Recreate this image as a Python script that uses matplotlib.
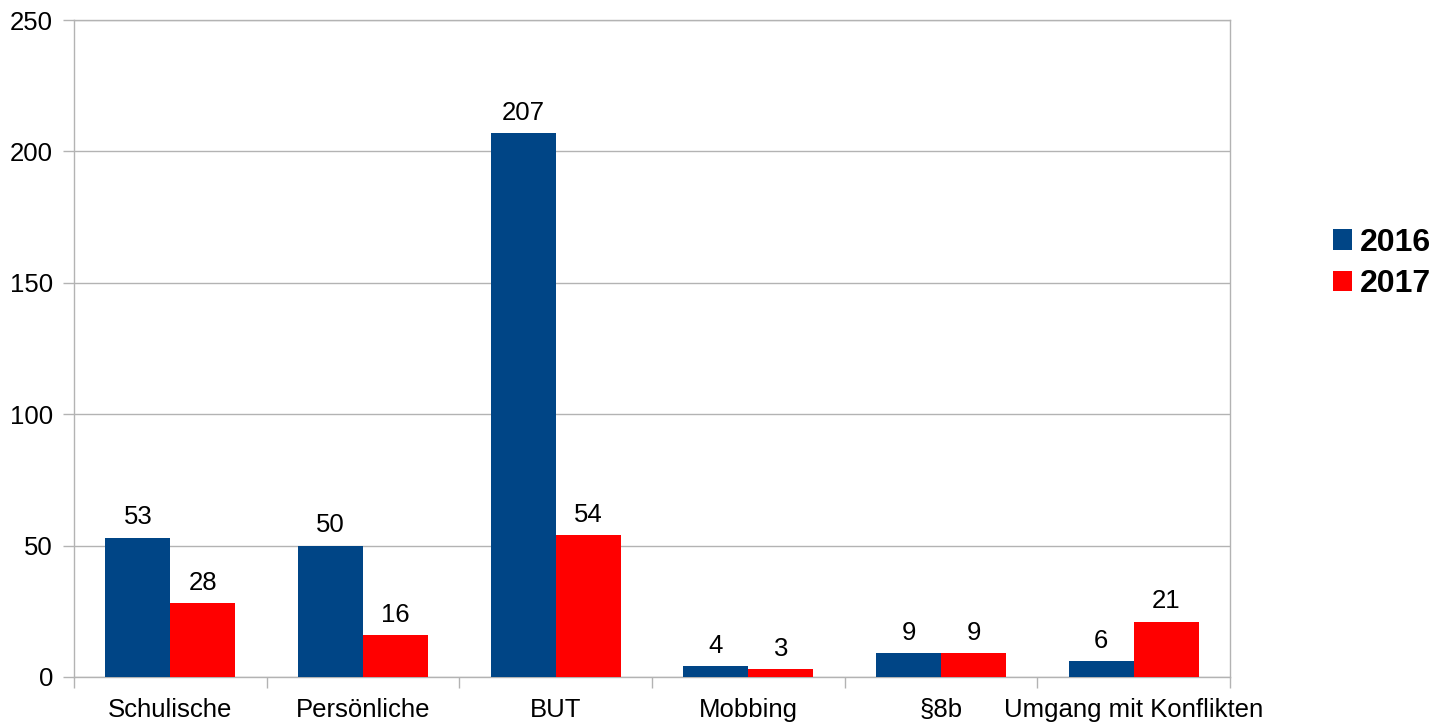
import matplotlib.pyplot as plt
import numpy as np

categories = ['Schulische', 'Persönliche', 'BUT', 'Mobbing', '§8b', 'Umgang mit Konflikten']
years = ['2016', '2017']
values_2016 = [53, 50, 207, 4, 9, 6]
values_2017 = [28, 16, 54, 3, 9, 21]
y_ticks = [0, 50, 100, 150, 200, 250]

plt.rcParams['font.family'] = ['Liberation Sans', 'DejaVu Sans']

fig = plt.figure(figsize=(14.39, 7.28), dpi=100)
ax = fig.add_axes([0.0514, 0.0701, 0.8034, 0.9024])

grey = '#b3b3b3'
x = np.arange(len(categories))
w = 0.337

b1 = ax.bar(x - w / 2, values_2016, w, color='#004586', label=years[0], zorder=3)
b2 = ax.bar(x + w / 2, values_2017, w, color='#ff0000', label=years[1], zorder=3)

for bars in (b1, b2):
    ax.bar_label(bars, padding=6, fontsize=18.5, color='black')

ax.set_xlim(-0.5, len(categories) - 0.5)
ax.set_ylim(0, 250)
ax.set_yticks(y_ticks)
ax.yaxis.grid(True, color=grey, linewidth=1, zorder=0)

ax.set_xticks(x)
ax.set_xticklabels(categories, fontsize=18.5)
ax.set_xticks(np.arange(-0.5, len(categories)), minor=True)
ax.tick_params(axis='x', which='major', length=0, pad=15)
ax.tick_params(axis='x', which='minor', length=8, color=grey, width=1)
ax.tick_params(axis='y', length=8, color=grey, width=1, pad=7, labelsize=18.5)

for s in ax.spines.values():
    s.set_color(grey)
    s.set_linewidth(1)

fig.legend(handles=[b1, b2], loc='center left', bbox_to_anchor=(0.9263, 0.638),
           frameon=False, prop={'weight': 'bold', 'size': 23},
           handlelength=0.6, handleheight=0.6, handletextpad=0.25,
           labelspacing=0.36, borderpad=0, borderaxespad=0)

fig.savefig('out.png', dpi=100)
